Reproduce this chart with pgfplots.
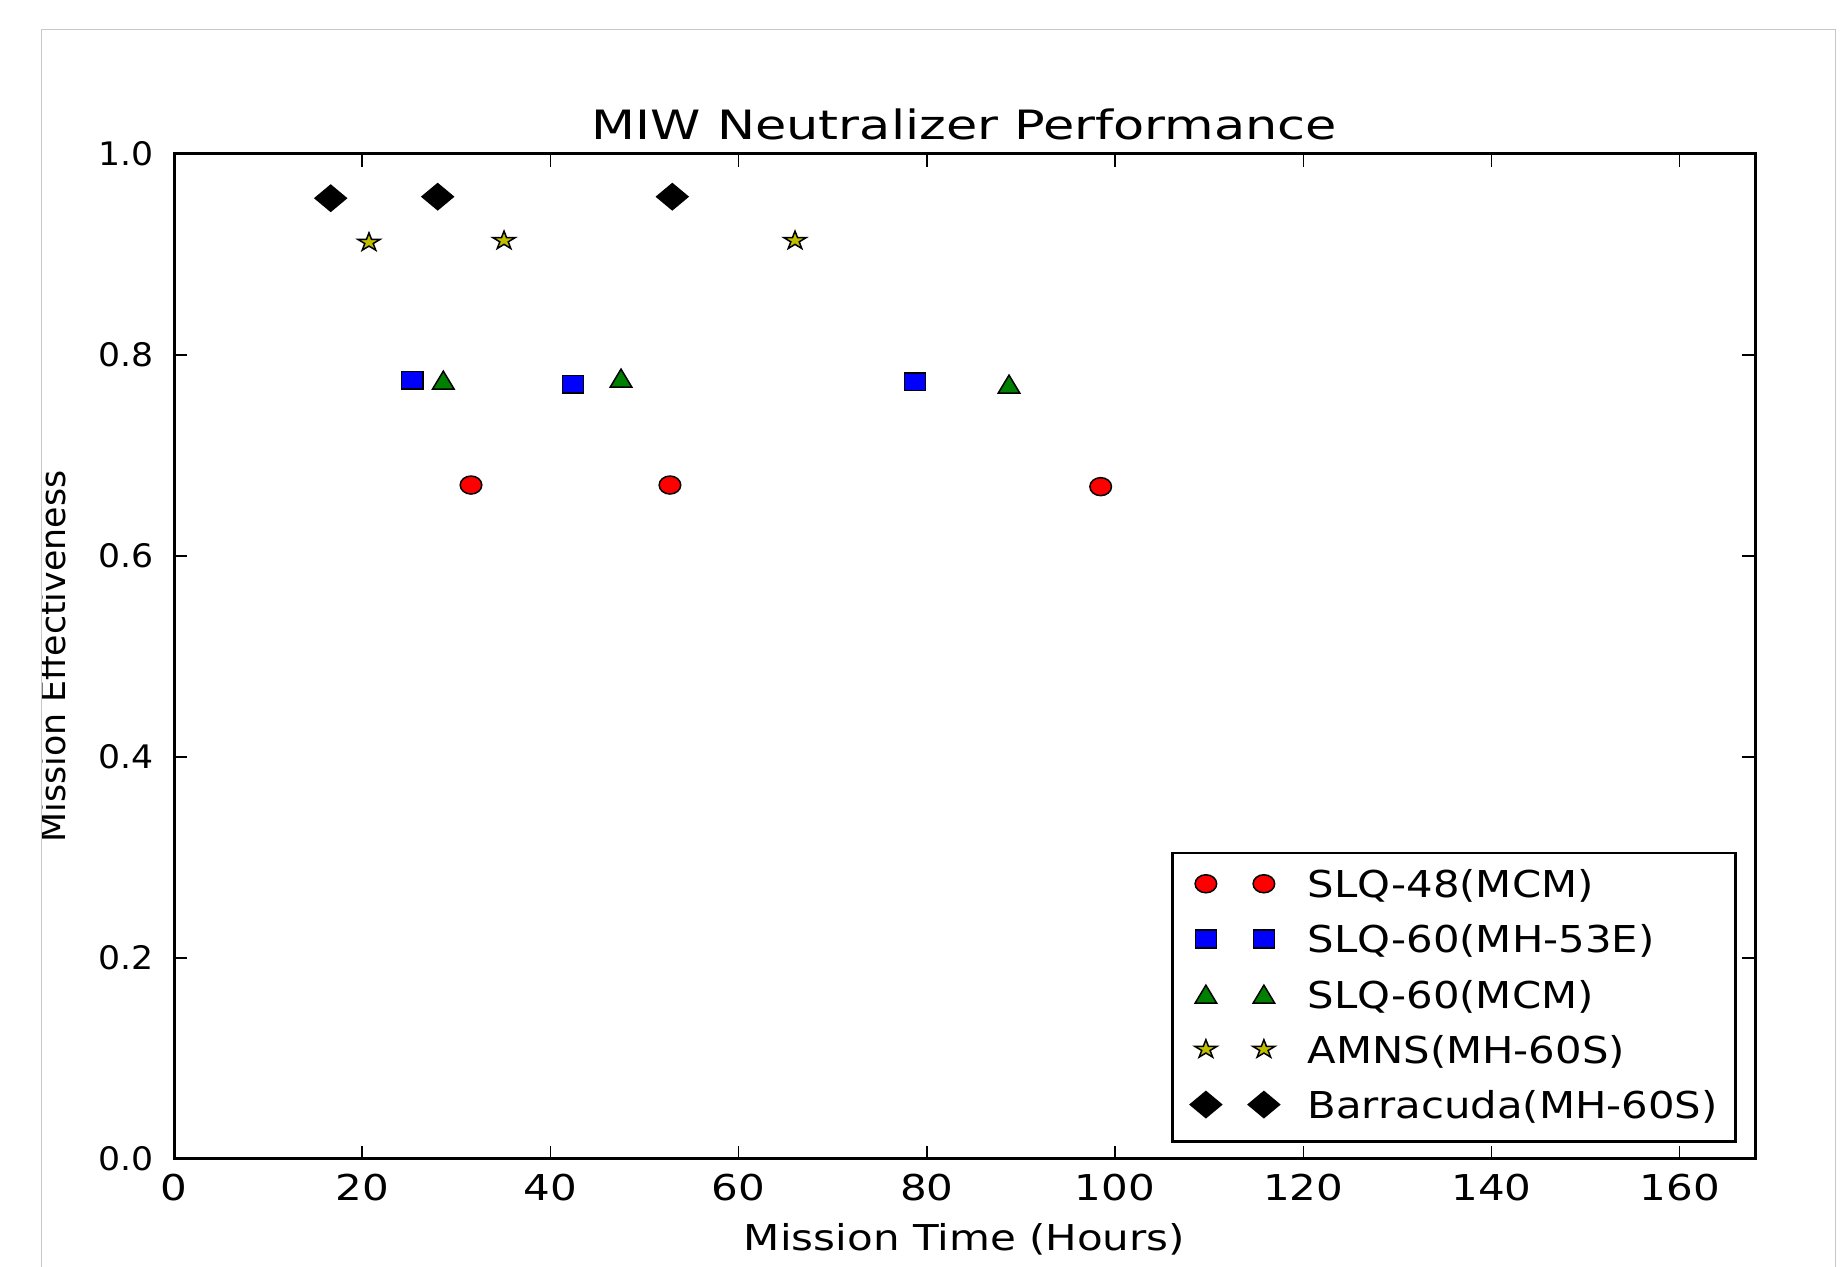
\documentclass[border=0pt]{standalone}
\usepackage{pgfplots}
\pgfplotsset{compat=1.18}
\usepackage{fontspec}
\setmainfont{DejaVu Sans}
\newfontfamily\titlefont{DejaVu Sans}[FakeStretch=1.26]
\newfontfamily\xfont{DejaVu Sans}[FakeStretch=1.18]
\newfontfamily\yfont{DejaVu Sans}[FakeStretch=1.07]
\newfontfamily\legfont{DejaVu Sans}[FakeStretch=1.13]
\newfontfamily\ylabfont{DejaVu Sans}
\definecolor{mplgreen}{rgb}{0,0.5,0}
\definecolor{mplyellow}{rgb}{0.75,0.75,0}
\definecolor{framegray}{gray}{0.78}

\pgfdeclareplotmark{fstar}{%
  \pgfpathmoveto{\pgfqpointpolar{90}{\pgfplotmarksize}}%
  \pgfpathlineto{\pgfqpointpolar{126}{0.382\pgfplotmarksize}}%
  \pgfpathlineto{\pgfqpointpolar{162}{\pgfplotmarksize}}%
  \pgfpathlineto{\pgfqpointpolar{198}{0.382\pgfplotmarksize}}%
  \pgfpathlineto{\pgfqpointpolar{234}{\pgfplotmarksize}}%
  \pgfpathlineto{\pgfqpointpolar{270}{0.382\pgfplotmarksize}}%
  \pgfpathlineto{\pgfqpointpolar{306}{\pgfplotmarksize}}%
  \pgfpathlineto{\pgfqpointpolar{342}{0.382\pgfplotmarksize}}%
  \pgfpathlineto{\pgfqpointpolar{18}{\pgfplotmarksize}}%
  \pgfpathlineto{\pgfqpointpolar{54}{0.382\pgfplotmarksize}}%
  \pgfpathclose
  \pgfusepathqfillstroke}
\pgfdeclareplotmark{ftri}{%
  \pgfpathmoveto{\pgfqpoint{0pt}{\pgfplotmarksize}}%
  \pgfpathlineto{\pgfqpoint{-\pgfplotmarksize}{-\pgfplotmarksize}}%
  \pgfpathlineto{\pgfqpoint{\pgfplotmarksize}{-\pgfplotmarksize}}%
  \pgfpathclose
  \pgfusepathqfillstroke}

\pgfplotsset{
  twomarks/.style={legend image code/.code={%
    \draw[##1] plot coordinates {(0pt,1.6pt) (29pt,1.6pt)};}},
}

\begin{document}
\begin{tikzpicture}[x=0.5pt,y=0.5pt]
\useasboundingbox (0,0) rectangle (1845,1267);
\draw[framegray, line width=0.75pt] (41.5,-10) -- (41.5,1237.7) -- (1835.7,1237.7) -- (1835.7,-10);
\begin{scope}
\clip (42.5,0) rectangle (1845,1267);
\begin{axis}[
  at={(87pt,54pt)}, anchor=south west,
  scale only axis, width=790.5pt, height=502.5pt,
  xmin=0, xmax=168, ymin=0, ymax=1,
  xtick={0,20,40,60,80,100,120,140,160},
  ytick={0,0.2,0.4,0.6,0.8,1.0},
  xtick pos=both, ytick pos=both, tick align=inside,
  xticklabel pos=bottom, yticklabel pos=left,
  /pgf/number format/assume math mode=true,
  yticklabel style={/pgf/number format/fixed, /pgf/number format/fixed zerofill, /pgf/number format/precision=1},
  axis line style={line width=1.5pt, black},
  major tick length=6.3pt,
  major tick style={line width=0.75pt, black},
  xticklabel style={font=\xfont\fontsize{17.8}{20}\selectfont, inner sep=0pt, anchor=north},
  yticklabel style={font=\yfont\fontsize{16.2}{19}\selectfont, inner sep=0pt, anchor=east},
  xticklabel shift=7.5pt,
  yticklabel shift=10pt,
  title={MIW Neutralizer Performance},
  title style={at={(axis description cs:0.5,1.0024)}, anchor=base, inner sep=0pt, font=\titlefont\fontsize{20.2}{24}\selectfont},
  xlabel={Mission Time (Hours)},
  xlabel style={at={(axis description cs:0.5,-0.0915)}, anchor=base, inner sep=0pt, font=\xfont\fontsize{17.8}{20}\selectfont},
  ylabel={Mission Effectiveness},
  ylabel style={at={(axis description cs:-0.0685,0.5)}, anchor=base, inner sep=0pt, font=\ylabfont\fontsize{17.4}{20}\selectfont},
  legend style={at={(axis description cs:0.9886,0.0159)}, anchor=south east,
    draw=black, line width=1.3pt, inner xsep=9pt, inner ysep=8.85pt,
    row sep=11.35pt, column sep=14pt,
    font=\legfont\fontsize{18.5}{22}\selectfont,
    nodes={inner sep=0pt, text height=13.5pt, text depth=2.75pt}},
  legend cell align=left,
]
\addplot[only marks, mark=*, mark size=4.5pt, draw=black, fill=red, line width=0.75pt,
  mark options={xscale=1.2, draw=black, fill=red}, twomarks]
  coordinates {(31.56,0.6706) (52.70,0.6706) (98.47,0.6690)};
\addlegendentry{SLQ-48(MCM)}
\addplot[only marks, mark=square*, mark size=4.4pt, draw=black, fill=blue, line width=0.75pt,
  mark options={xscale=1.2, draw=black, fill=blue}, twomarks]
  coordinates {(25.32,0.7750) (42.40,0.7710) (78.74,0.7734)};
\addlegendentry{SLQ-60(MH-53E)}
\addplot[only marks, mark=ftri, mark size=4.5pt, draw=black, fill=mplgreen, line width=0.75pt,
  mark options={xscale=1.2, draw=black, fill=mplgreen}, twomarks]
  coordinates {(28.62,0.7750) (47.50,0.7770) (88.73,0.7710)};
\addlegendentry{SLQ-60(MCM)}
\addplot[only marks, mark=fstar, mark size=4.8pt, draw=black, fill=mplyellow, line width=0.75pt,
  mark options={xscale=1.2, draw=black, fill=mplyellow}, twomarks]
  coordinates {(20.72,0.9120) (35.07,0.9137) (65.99,0.9137)};
\addlegendentry{AMNS(MH-60S)}
\addplot[only marks, mark=square*, mark size=4.6pt, draw=black, fill=black, line width=0.75pt,
  mark options={xscale=1.2, rotate=45, draw=black, fill=black}, twomarks]
  coordinates {(16.65,0.9560) (28.02,0.9575) (52.95,0.9575)};
\addlegendentry{Barracuda(MH-60S)}
\end{axis}
\end{scope}
\end{tikzpicture}
\end{document}
